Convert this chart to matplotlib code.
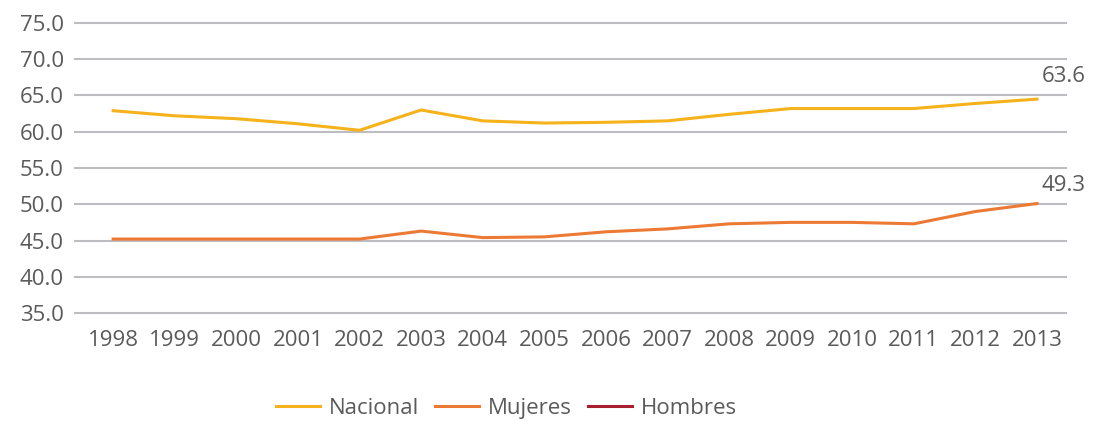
import matplotlib
matplotlib.use('Agg')
import matplotlib.pyplot as plt

plt.rcParams['font.family'] = ['Open Sans', 'DejaVu Sans']

# datos
years = list(range(1998, 2014))
nacional = [62.9, 62.2, 61.8, 61.1, 60.2, 63.0, 61.5, 61.2, 61.3, 61.5,
            62.4, 63.2, 63.2, 63.2, 63.9, 64.5]
mujeres = [45.2, 45.2, 45.2, 45.2, 45.2, 46.3, 45.4, 45.5, 46.2, 46.6,
           47.3, 47.5, 47.5, 47.3, 49.0, 50.1]
hombres = []  # sin datos visibles
yticks = [35.0, 40.0, 45.0, 50.0, 55.0, 60.0, 65.0, 70.0, 75.0]
end_labels = ['63.6', '49.3']

gray = '#5a5a5a'
fs = 16

fig = plt.figure(figsize=(10.96, 4.21), dpi=100)
ax = fig.add_axes([0.0684, 0.2565, 0.9042, 0.6889])

ax.plot(years, nacional, color='#f5b21a', lw=2.2, label='Nacional', zorder=3)
ax.plot(years, mujeres, color='#ec7a34', lw=2.2, label='Mujeres', zorder=3)
ax.plot(years[:len(hombres)], hombres, color='#a8202f', lw=2.2, label='Hombres', zorder=3)

ax.set_xlim(1997.38, 2013.47)
ax.set_ylim(35, 75)
ax.set_yticks(yticks)
ax.set_yticklabels([f'{v:.1f}' for v in yticks])
ax.set_xticks(years)
ax.yaxis.grid(True, color='#bcbcc1', lw=1.5)
for line in ax.get_ygridlines():
    line.set_clip_on(False)
ax.set_axisbelow(True)
for s in ax.spines.values():
    s.set_visible(False)
ax.tick_params(axis='both', length=0, labelsize=fs, colors=gray)
ax.tick_params(axis='y', pad=8)
ax.tick_params(axis='x', pad=12)

# etiquetas del último valor
ax.annotate(end_labels[0], (years[-1], nacional[-1]), xytext=(19, 16),
            textcoords='offset points', ha='center', va='center',
            fontsize=fs, color=gray, annotation_clip=False)
ax.annotate(end_labels[1], (years[-1], mujeres[-1]), xytext=(19, 13),
            textcoords='offset points', ha='center', va='center',
            fontsize=fs, color=gray, annotation_clip=False)

fig.legend(loc='center', bbox_to_anchor=(0.462, 0.03), ncol=3, frameon=False,
           fontsize=fs, labelcolor=gray, handlelength=2.0, columnspacing=0.7,
           handletextpad=0.4)

fig.savefig('out.png', dpi=100)
